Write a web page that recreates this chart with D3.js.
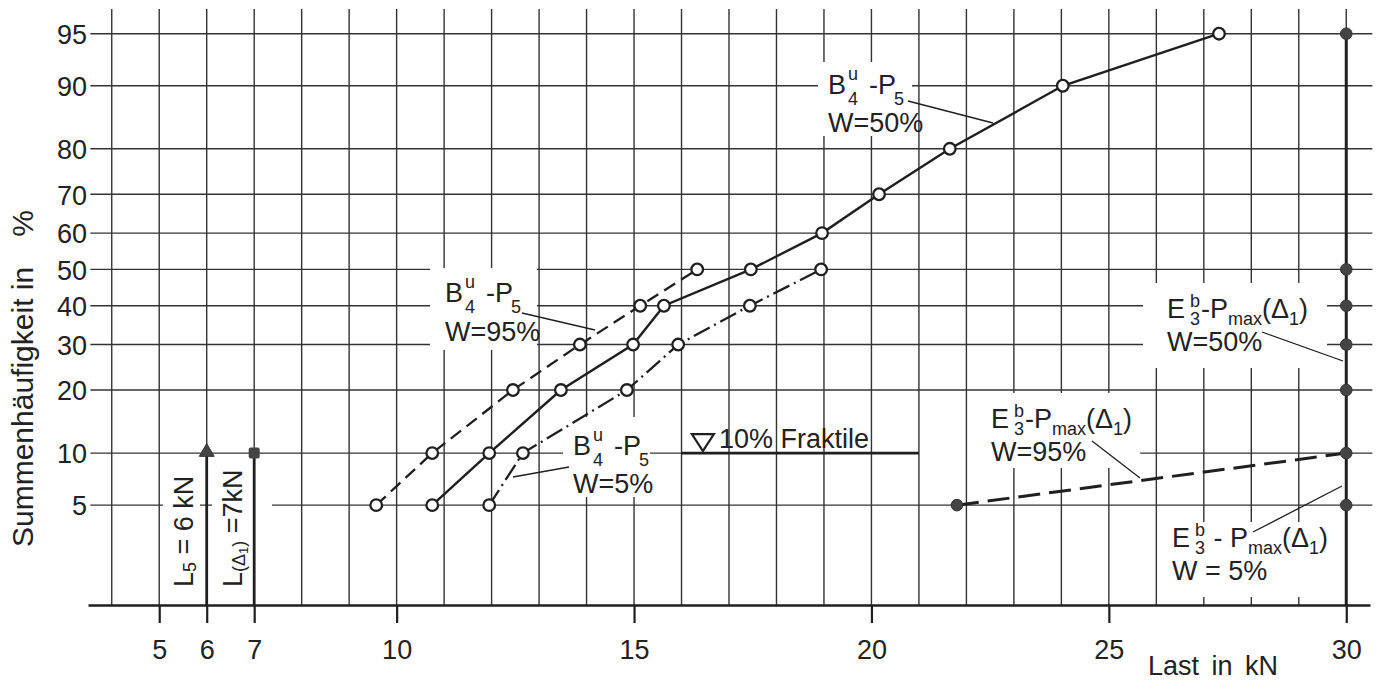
<!DOCTYPE html>
<html><head><meta charset="utf-8">
<script src="https://cdn.jsdelivr.net/npm/d3@7"></script>
<style>
body{margin:0;background:#fff}
svg text{font-family:"Liberation Sans",Arial,sans-serif;fill:#222}
</style>
</head><body>
<svg id="c" width="1382" height="683"></svg>
<script>
// ---------- data ----------
const probTicks = [5,10,20,30,40,50,60,70,80,90,95];
const xTickValues = [5,6,7,10,15,20,25,30];
const gridLoads = d3.range(4,31);

// B4u-P5, W=50% (solid)
const w50Load = [10.75,11.95,13.46,14.98,15.63,17.46,18.96,20.16,21.65,24.03,27.32];
const w50Pct  = [5,10,20,30,40,50,60,70,80,90,95];
// B4u-P5, W=95% (dashed)
const w95Load = [9.57,10.75,12.45,13.86,15.13,16.33];
const w95Pct  = [5,10,20,30,40,50];
// B4u-P5, W=5% (dash-dot)
const w5Load  = [11.95,12.66,14.85,15.93,17.44,18.94];
const w5Pct   = [5,10,20,30,40,50];
// E3b-Pmax(Δ1), W=50% (all at 30 kN)
const e50Load = [30,30,30,30,30,30,30];
const e50Pct  = [5,10,20,30,40,50,95];
// E3b-Pmax(Δ1), W=95% (long dashes)
const e95Load = [21.8,30];
const e95Pct  = [5,10];
// reference loads at 10 %
const refLoads = [6,7];
const refPct = 10;
// 10% Fraktile
const fraktileLoad = [16,21];
const fraktilePct = 10;

// ---------- scales ----------
function probit(p){
 const a=[-3.969683028665376e+01,2.209460984245205e+02,-2.759285104469687e+02,1.383577518672690e+02,-3.066479806614716e+01,2.506628277459239e+00];
 const b=[-5.447609879822406e+01,1.615858368580409e+02,-1.556989798598866e+02,6.680131188771972e+01,-1.328068155288572e+01];
 const c=[-7.784894002430293e-03,-3.223964580411365e-01,-2.400758277161838e+00,-2.549732539343734e+00,4.374664141464968e+00,2.938163982698783e+00];
 const d=[7.784695709041462e-03,3.224671290700398e-01,2.445134137142996e+00,3.754408661907416e+00];
 const pl=0.02425, ph=1-pl; let q,r;
 if(p<pl){q=Math.sqrt(-2*Math.log(p));return (((((c[0]*q+c[1])*q+c[2])*q+c[3])*q+c[4])*q+c[5])/((((d[0]*q+d[1])*q+d[2])*q+d[3])*q+1);}
 if(p<=ph){q=p-0.5;r=q*q;return (((((a[0]*r+a[1])*r+a[2])*r+a[3])*r+a[4])*r+a[5])*q/(((((b[0]*r+b[1])*r+b[2])*r+b[3])*r+b[4])*r+1);}
 q=Math.sqrt(-2*Math.log(1-p));return -(((((c[0]*q+c[1])*q+c[2])*q+c[3])*q+c[4])*q+c[5])/((((d[0]*q+d[1])*q+d[2])*q+d[3])*q+1);
}
const x = d3.scaleLinear().domain([3.5,30.5]).range([88,1370]);
const zs = d3.scaleLinear().domain([probit(0.0096), probit(0.95)]).range([605,33.7]);
const y = p => zs(probit(p/100));
const zip = (a,b) => a.map((v,i)=>({load:v,pct:b[i]}));

const INK = "#1f1f1f", GRID = "#333";
const svg = d3.select("#c");

// ---------- grid ----------
const grid = svg.append("g").attr("stroke",GRID).attr("stroke-width",1.4);
grid.selectAll(".v").data(gridLoads).join("line")
  .attr("x1",d=>x(d)).attr("x2",d=>x(d)).attr("y1",9).attr("y2",y(0.96));
const hSegs = [];
probTicks.forEach(p=>{
  if(p===10){ hSegs.push({p,a:3.55,b:fraktileLoad[1]}); hSegs.push({p,a:25.66,b:30.55}); }
  else hSegs.push({p,a:3.55,b:30.55});
});
grid.selectAll(".h").data(hSegs).join("line")
  .attr("x1",d=>x(d.a)).attr("x2",d=>x(d.b)).attr("y1",d=>y(d.p)).attr("y2",d=>y(d.p));

// ---------- white label backgrounds ----------
const boxes = [[818,62,94,74],[430,268,107,82],[563,417,87,80],[1143,283,184,85],
               [975,393,165,75],[1165,522,165,75],[163,470,37,125],[212,460,60,135]];
svg.append("g").selectAll("rect").data(boxes).join("rect")
  .attr("x",d=>d[0]).attr("y",d=>d[1]).attr("width",d=>d[2]).attr("height",d=>d[3]).attr("fill","#fff");

// ---------- axes ----------
const xa = svg.append("g").attr("transform",`translate(0,${y(0.96)})`)
  .call(d3.axisBottom(x).tickValues(xTickValues).tickSize(18).tickSizeOuter(0).tickPadding(17).tickFormat(d3.format("d")));
xa.select(".domain").attr("stroke",INK).attr("stroke-width",2.6);
xa.selectAll(".tick line").attr("stroke",INK).attr("stroke-width",2.2);
xa.selectAll(".tick text").attr("font-size",27).attr("font-family",null).attr("fill","#222");

const ya = svg.append("g").attr("transform","translate(88,0)")
  .call(d3.axisLeft(zs).tickValues(probTicks.map(p=>probit(p/100))).tickFormat((d,i)=>probTicks[i]).tickSize(0).tickPadding(1));
ya.select(".domain").remove();
ya.selectAll(".tick text").attr("font-size",27).attr("font-family",null).attr("fill","#222").attr("dy","0.36em");

// axis titles
svg.append("text").attr("transform",`translate(33,547) rotate(-90)`).attr("font-size",30)
  .text("Summenhäufigkeit in").append("tspan").attr("dx",30).text("%");
svg.append("text").attr("x",1148).attr("y",675).attr("font-size",27).attr("word-spacing",5).text("Last in kN");

// ---------- thick reference lines ----------
const thick = svg.append("g").attr("stroke",INK).attr("stroke-linecap","butt");
thick.selectAll(".ref").data(refLoads).join("line")
  .attr("x1",d=>x(d)).attr("x2",d=>x(d)).attr("y1",y(refPct)).attr("y2",y(0.96)).attr("stroke-width",2.8);
thick.append("line").attr("x1",x(30)).attr("x2",x(30)).attr("y1",y(d3.max(e50Pct))).attr("y2",y(0.96)).attr("stroke-width",3);
thick.append("line").attr("x1",x(fraktileLoad[0])).attr("x2",x(fraktileLoad[1]))
  .attr("y1",y(fraktilePct)).attr("y2",y(fraktilePct)).attr("stroke-width",2.6);

// ---------- data lines ----------
const line = d3.line().x(d=>x(d.load)).y(d=>y(d.pct));
const series = [
  {d:zip(w50Load,w50Pct), dash:null, w:2.4},
  {d:zip(w95Load,w95Pct), dash:"13,7", w:2.3},
  {d:zip(w5Load,w5Pct), dash:"18,5,2,5", w:2.3},
  {d:zip(e95Load,e95Pct), dash:"22,9", w:3}
];
svg.append("g").selectAll("path").data(series).join("path")
  .attr("d",s=>line(s.d)).attr("fill","none").attr("stroke",INK)
  .attr("stroke-width",s=>s.w).attr("stroke-dasharray",s=>s.dash);

// ---------- markers ----------
const openPts = [].concat(zip(w50Load,w50Pct),zip(w95Load,w95Pct),zip(w5Load,w5Pct));
svg.append("g").selectAll("circle").data(openPts).join("circle")
  .attr("cx",d=>x(d.load)).attr("cy",d=>y(d.pct)).attr("r",5.8)
  .attr("fill","#fff").attr("stroke",INK).attr("stroke-width",2.3);
const filledPts = [].concat(zip(e50Load,e50Pct), zip([e95Load[0]],[e95Pct[0]]));
svg.append("g").selectAll("circle").data(filledPts).join("circle")
  .attr("cx",d=>x(d.load)).attr("cy",d=>y(d.pct)).attr("r",5.8)
  .attr("fill","#444").attr("stroke","#333").attr("stroke-width",1);
// triangle at 6 kN, square at 7 kN
svg.append("path").attr("d",d3.symbol(d3.symbolTriangle,95)())
  .attr("transform",`translate(${x(refLoads[0])},${y(refPct)-1})`).attr("fill","#444").attr("stroke","#333");
svg.append("rect").attr("x",x(refLoads[1])-5.5).attr("y",y(refPct)-5.5).attr("width",11).attr("height",11)
  .attr("rx",2).attr("fill","#444");
// open triangle for fraktile
const tx = x(16.45), ty = y(fraktilePct)-2;
svg.append("path").attr("d",`M${tx-11},${ty-17}L${tx+11},${ty-17}L${tx},${ty}Z`)
  .attr("fill","none").attr("stroke",INK).attr("stroke-width",2.2).attr("stroke-linejoin","miter");
svg.append("text").attr("x",719).attr("y",448).attr("font-size",27).text("10% Fraktile");

// ---------- leader lines ----------
const leaders = [[908,101,993,123],[522,313,595,330],[569,467,513,477],[1262,332,1343,361],[1092,441,1140,478],[1253,532,1342,486]];
svg.append("g").selectAll("line").data(leaders).join("line")
  .attr("x1",d=>d[0]).attr("y1",d=>d[1]).attr("x2",d=>d[2]).attr("y2",d=>d[3])
  .attr("stroke",INK).attr("stroke-width",1.3);

// ---------- rich labels ----------
function rich(g, parts, size, off){
  let cx=0, lastX=0;
  parts.forEach(p=>{
    const k=p.k||"n";
    const fs = k==="n"?size:(k==="ss"?13:18);
    const dy = off[k]||0;
    const px = p.stack ? lastX : cx + (p.gap||0);
    const t = g.append("text").attr("xml:space","preserve").attr("x",px).attr("y",dy).attr("font-size",fs).text(p.t);
    const w = t.node().getComputedTextLength();
    if(p.stack){ cx=Math.max(cx,px+w); } else { lastX=px; cx=px+w; }
  });
}
const bParts = [{t:"B"},{t:"u",k:"sup",gap:2},{t:"4",k:"sub",stack:1},{t:"-P",gap:11},{t:"5",k:"sub",gap:-2}];
const bOff = {sup:-14, sub:11};
const eParts = sp => [{t:"E"},{t:"b",k:"sup",gap:5},{t:"3",k:"sub",stack:1},{t:sp?" - P":"-P",gap:1},{t:"max",k:"sub"},{t:"(Δ"},{t:"1",k:"sub"},{t:")"}];
const eOff = {sup:-11, sub:7};
function label(xp,yp,parts,off,line2,y2){
  const g = svg.append("g").attr("transform",`translate(${xp},${yp})`);
  rich(g,parts,27,off);
  svg.append("text").attr("xml:space","preserve").attr("x",xp).attr("y",y2).attr("font-size",27).text(line2);
}
label(828,94,bParts,bOff,"W=50%",132);
label(445,302,bParts,bOff,"W=95%",341);
label(573,455,bParts,bOff,"W=5%",493);
label(1167,318,eParts(false),eOff,"W=50%",351);
label(991,428,eParts(false),eOff,"W=95%",461);
label(1172,547,eParts(true),eOff,"W = 5%",580);

// rotated reference labels
const g5 = svg.append("g").attr("transform",`translate(193,587) rotate(-90)`);
rich(g5,[{t:"L"},{t:"5",k:"sub"},{t:" = 6 kN"}],27,{sub:3});
const g7 = svg.append("g").attr("transform",`translate(242,587) rotate(-90)`);
rich(g7,[{t:"L"},{t:"(Δ",k:"sub"},{t:"1",k:"ss"},{t:")",k:"sub"},{t:" =7kN"}],27,{sub:3,ss:6});
</script>
</body></html>
